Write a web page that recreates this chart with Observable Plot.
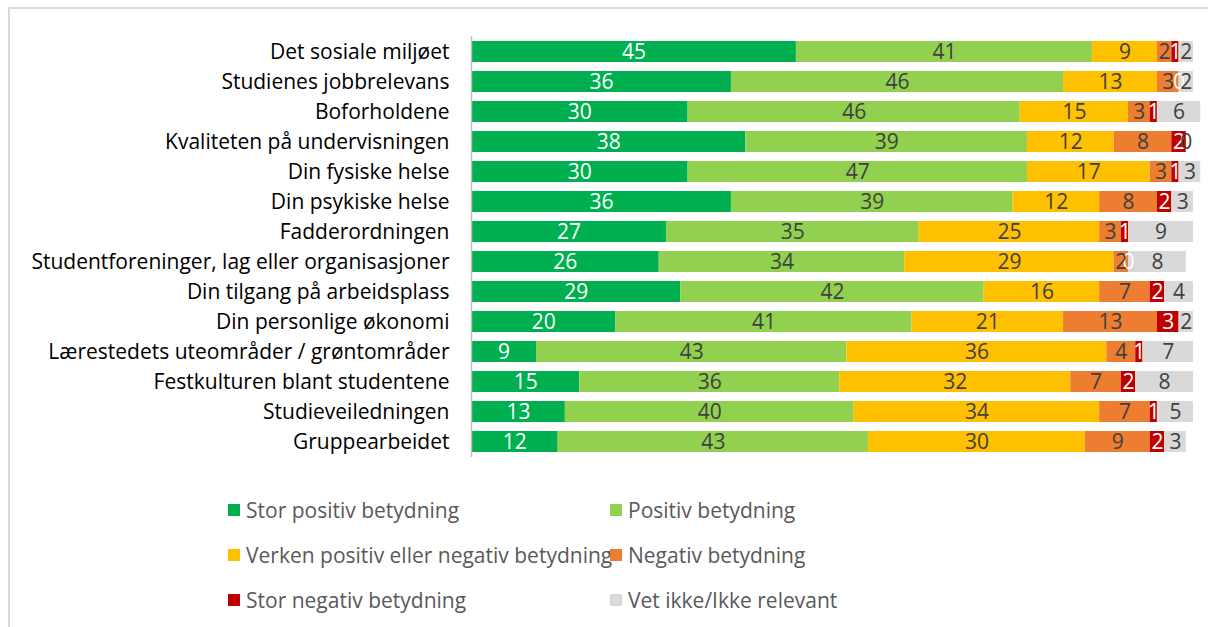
<!DOCTYPE html>
<html><head><meta charset="utf-8">
<script src="https://cdn.jsdelivr.net/npm/d3@7"></script>
<script src="https://cdn.jsdelivr.net/npm/@observablehq/plot@0.6"></script>
<style>
body{margin:0;background:#fff;font-family:"Open Sans",sans-serif;width:1208px;height:627px;overflow:hidden;position:relative;}
#frame{position:absolute;left:8px;top:7px;width:1300px;height:700px;border-left:2px solid #d9d9d9;border-top:2px solid #d9d9d9;}
#chart{position:absolute;left:0;top:0;}
#legend{position:absolute;left:228px;top:496px;display:grid;grid-template-columns:382px 300px;grid-auto-rows:45px;font-size:21px;color:#595959;}
.item{display:flex;align-items:center;height:28px;white-space:nowrap;}
.sw{width:12px;height:12px;margin-right:6px;flex:none;}
</style></head>
<body>
<div id="frame"></div>
<div id="chart"></div>
<div id="legend"></div>
<script>
const categories = ["Det sosiale miljøet","Studienes jobbrelevans","Boforholdene","Kvaliteten på undervisningen","Din fysiske helse","Din psykiske helse","Fadderordningen","Studentforeninger, lag eller organisasjoner","Din tilgang på arbeidsplass","Din personlige økonomi","Lærestedets uteområder / grøntområder","Festkulturen blant studentene","Studieveiledningen","Gruppearbeidet"];
const seriesNames = ["Stor positiv betydning","Positiv betydning","Verken positiv eller negativ betydning","Negativ betydning","Stor negativ betydning","Vet ikke/Ikke relevant"];
const seriesColors = ["#00B050","#92D050","#FFC000","#ED7D31","#C00000","#D9D9D9"];
const storPositiv = [45,36,30,38,30,36,27,26,29,20,9,15,13,12];
const positiv     = [41,46,46,39,47,39,35,34,42,41,43,36,40,43];
const verken      = [9,13,15,12,17,12,25,29,16,21,36,32,34,30];
const negativ     = [2,3,3,8,3,8,3,2,7,13,4,7,7,9];
const storNegativ = [1,0,1,2,1,2,1,0,2,3,1,2,1,2];
const vetIkke     = [2,2,6,0,3,3,9,8,4,2,7,8,5,3];
const whiteLabelSeries = new Set([seriesNames[0], seriesNames[4]]);

const seriesValues = [storPositiv, positiv, verken, negativ, storNegativ, vetIkke];
const data = [];
categories.forEach((c, i) => {
  seriesNames.forEach((s, j) => data.push({cat: c, series: s, value: seriesValues[j][i]}));
});

const stackOpts = {x: "value", y: "cat", z: "series"};
const chart = Plot.plot({
  width: 1208,
  height: 470,
  marginLeft: 471,
  marginRight: 15,
  marginTop: 36,
  marginBottom: 13,
  style: {background: "transparent", fontFamily: "'Open Sans', sans-serif"},
  x: {domain: [0, 100], axis: null},
  y: {domain: categories, paddingInner: 0.3, paddingOuter: 0.15, label: null},
  color: {domain: seriesNames, range: seriesColors},
  marks: [
    Plot.barX(data, Plot.stackX({...stackOpts, fill: "series"})),
    Plot.text(data, Plot.stackX({...stackOpts, text: d => whiteLabelSeries.has(d.series) ? String(d.value) : null, fill: "white", fontSize: 21})),
    Plot.text(data, Plot.stackX({...stackOpts, text: d => whiteLabelSeries.has(d.series) ? null : String(d.value), fill: "#404040", fontSize: 21})),
    Plot.ruleX([0], {stroke: "#bfbfbf", strokeWidth: 1.5}),
    Plot.axisY({tickSize: 0, tickPadding: 22, fontSize: 21, fill: "black", label: null})
  ]
});
document.getElementById("chart").appendChild(chart);

const legend = document.getElementById("legend");
seriesNames.forEach((s, j) => {
  const it = document.createElement("div");
  it.className = "item";
  const sw = document.createElement("span");
  sw.className = "sw";
  sw.style.background = seriesColors[j];
  const tx = document.createElement("span");
  tx.textContent = s;
  it.appendChild(sw); it.appendChild(tx);
  legend.appendChild(it);
});
</script>
</body></html>
